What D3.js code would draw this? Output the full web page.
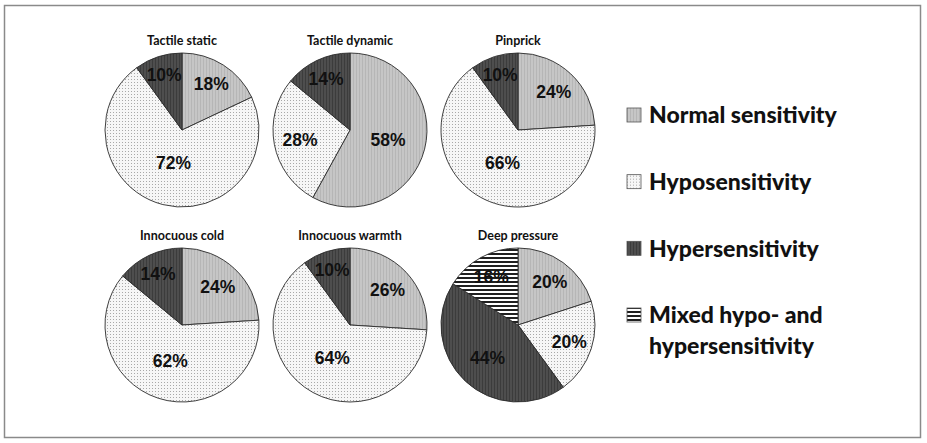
<!DOCTYPE html>
<html>
<head>
<meta charset="utf-8">
<script src="https://cdn.jsdelivr.net/npm/d3@7"></script>
<style>
  body { margin: 0; background: #fff; }
</style>
</head>
<body>
<div id="chart"></div>
<script>
const width = 927;
const height = 443;

const panels = ['Tactile static', 'Tactile dynamic', 'Pinprick', 'Innocuous cold', 'Innocuous warmth', 'Deep pressure'];
const categories = ['Normal sensitivity', 'Hyposensitivity', 'Hypersensitivity', 'Mixed hypo- and hypersensitivity'];
const legendLines = [['Normal sensitivity'], ['Hyposensitivity'], ['Hypersensitivity'], ['Mixed hypo- and', 'hypersensitivity']];
const normalVals = [18, 58, 24, 24, 26, 20];
const hypoVals = [72, 28, 66, 62, 64, 20];
const hyperVals = [10, 14, 10, 14, 10, 44];
const mixedVals = [0, 0, 0, 0, 0, 16];

const series = [normalVals, hypoVals, hyperVals, mixedVals];
const fills = ['url(#pNormal)', 'url(#pHypo)', 'url(#pHyper)', 'url(#pMixed)'];

const svg = d3.select('#chart').append('svg')
  .attr('width', width).attr('height', height);

// hatch / dot patterns like the scanned figure
const defs = svg.append('defs');
const pNormal = defs.append('pattern').attr('id', 'pNormal')
  .attr('patternUnits', 'userSpaceOnUse').attr('width', 3).attr('height', 3);
pNormal.append('rect').attr('width', 3).attr('height', 3).attr('fill', '#c6c6c6');
pNormal.append('rect').attr('width', 1).attr('height', 3).attr('fill', '#b6b6b6');

const pHypo = defs.append('pattern').attr('id', 'pHypo')
  .attr('patternUnits', 'userSpaceOnUse').attr('width', 3).attr('height', 3);
pHypo.append('rect').attr('width', 3).attr('height', 3).attr('fill', '#f6f6f6');
pHypo.append('rect').attr('width', 1).attr('height', 1).attr('fill', '#a8a8a8');

const pHyper = defs.append('pattern').attr('id', 'pHyper')
  .attr('patternUnits', 'userSpaceOnUse').attr('width', 3).attr('height', 3);
pHyper.append('rect').attr('width', 3).attr('height', 3).attr('fill', '#4e4e4e');
pHyper.append('rect').attr('width', 1).attr('height', 3).attr('fill', '#3c3c3c');

const pMixed = defs.append('pattern').attr('id', 'pMixed')
  .attr('patternUnits', 'userSpaceOnUse').attr('width', 4).attr('height', 4);
pMixed.append('rect').attr('width', 4).attr('height', 4).attr('fill', '#ffffff');
pMixed.append('rect').attr('width', 4).attr('height', 2).attr('fill', '#202020');

// frame
svg.append('rect')
  .attr('x', 4.5).attr('y', 5.5).attr('width', 916).attr('height', 432)
  .attr('fill', 'none').attr('stroke', '#8a8a8a').attr('stroke-width', 1.5);

const radius = 77;

const col = d3.scaleBand().domain([0, 1, 2]).range([98, 602]);
const row = d3.scaleBand().domain([0, 1]).range([32.5, 422.5]);

const pie = d3.pie().sort(null).value(d => d.value);
const arc = d3.arc().innerRadius(0).outerRadius(radius);
// smaller slices get their labels pushed further out
const labelArc = d => {
  const frac = (d.endAngle - d.startAngle) / (2 * Math.PI);
  const r = radius * (0.8 - 0.5 * frac);
  return d3.arc().innerRadius(r).outerRadius(r).centroid(d);
};

panels.forEach((name, i) => {
  const cx = col(i % 3) + col.bandwidth() / 2;
  const cy = row(Math.floor(i / 3)) + row.bandwidth() / 2;
  const data = series.map((s, k) => ({ value: s[i], k })).filter(d => d.value > 0);
  const g = svg.append('g').attr('transform', `translate(${cx},${cy})`);

  g.selectAll('path').data(pie(data)).enter().append('path')
    .attr('d', arc)
    .attr('fill', d => fills[d.data.k])
    .attr('stroke', '#2a2a2a')
    .attr('stroke-width', 0.9);

  g.selectAll('text.val').data(pie(data)).enter().append('text')
    .attr('class', 'val')
    .attr('transform', d => `translate(${labelArc(d)})`)
    .attr('text-anchor', 'middle')
    .attr('dy', '0.36em')
    .style('font-family', '"Liberation Sans", Arial, sans-serif')
    .style('font-weight', 'bold')
    .style('font-size', '17.5px')
    .attr('fill', '#111')
    .text(d => d.data.value + '%');

  g.append('text')
    .attr('y', -radius - 8)
    .attr('text-anchor', 'middle')
    .style('font-family', 'Lato, "Open Sans", sans-serif')
    .style('font-weight', 'bold')
    .style('font-size', '12.5px')
    .attr('fill', '#111')
    .text(name);
});

// legend
const legY = d3.scalePoint().domain(categories).range([115, 315]);
const leg = svg.append('g').selectAll('g').data(categories).enter().append('g')
  .attr('transform', d => `translate(627,${legY(d)})`);

leg.append('rect')
  .attr('x', 0).attr('y', -7).attr('width', 14).attr('height', 14)
  .attr('fill', (d, i) => fills[i])
  .attr('stroke', '#555').attr('stroke-width', 0.8);

// the tspan dy replaces the text dy, so the first line gets the offset here
leg.append('text')
  .attr('x', 22)
  .style('font-family', 'Lato, "Open Sans", sans-serif')
  .style('font-weight', '900')
  .style('font-size', '23px')
  .attr('fill', '#111')
  .selectAll('tspan').data((d, i) => legendLines[i]).enter().append('tspan')
  .attr('x', 22)
  .attr('dy', (d, j) => j === 0 ? '0.36em' : 31)
  .text(d => d);
</script>
</body>
</html>
